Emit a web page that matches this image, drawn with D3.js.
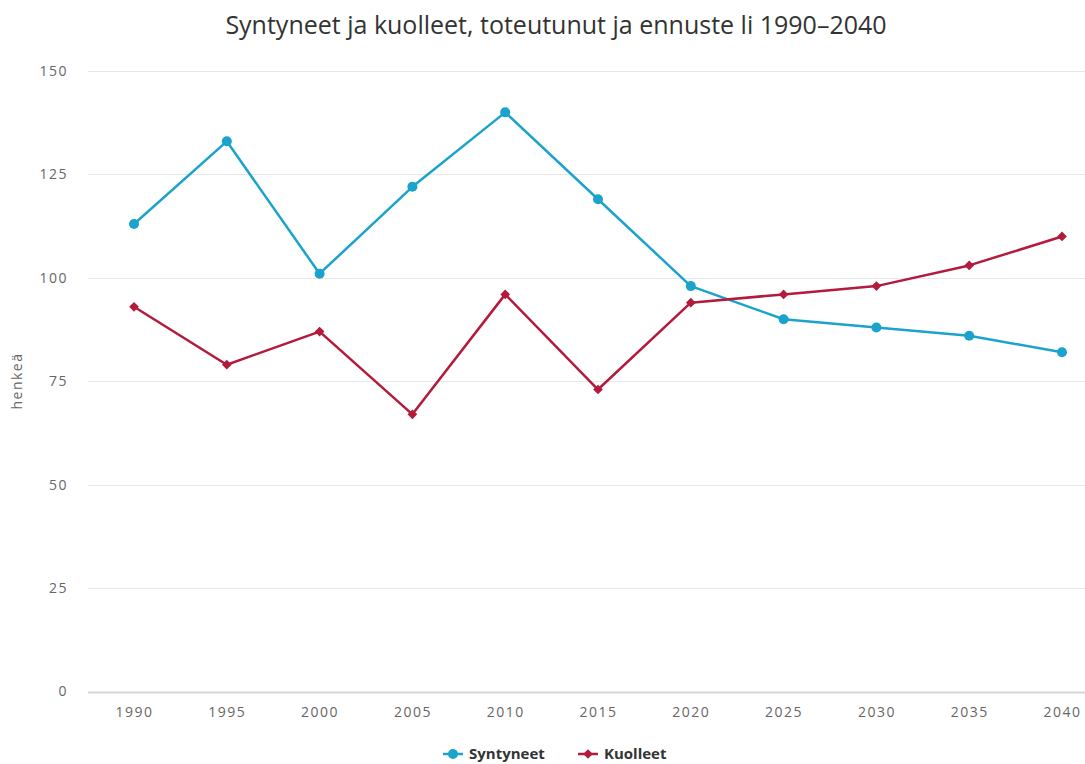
<!DOCTYPE html>
<html>
<head>
<meta charset="utf-8">
<script src="https://cdn.jsdelivr.net/npm/d3@7/dist/d3.min.js"></script>
<style>
  html, body { margin: 0; padding: 0; background: #fff; }
  svg { display: block; }
</style>
</head>
<body>
<svg id="chart" width="1085" height="764"></svg>
<script>
// Births and deaths, actual and projected, 1990–2040
const years = [1990, 1995, 2000, 2005, 2010, 2015, 2020, 2025, 2030, 2035, 2040];
const syntyneet = [113, 133, 101, 122, 140, 119, 98, 90, 88, 86, 82];
const kuolleet = [93, 79, 87, 67, 96, 73, 94, 96, 98, 103, 110];
const yTicks = [0, 25, 50, 75, 100, 125, 150];

const titleText = "Syntyneet ja kuolleet, toteutunut ja ennuste li 1990–2040";
const yTitle = "henkeä";
const seriesNames = ["Syntyneet", "Kuolleet"];
const colors = ["#1ba3cc", "#b31a3c"];

const W = 1085, H = 764;
const plot = { left: 88, right: 1085, top: 71, bottom: 691.5 };

const svg = d3.select("#chart");
const font = "'Open Sans', 'DejaVu Sans', sans-serif";

const x = d3.scalePoint()
  .domain(years)
  .range([134, 1062]);

const y = d3.scaleLinear()
  .domain([0, 150])
  .range([plot.bottom, plot.top]);

// Title
svg.append("text")
  .attr("x", 556)
  .attr("y", 34)
  .attr("text-anchor", "middle")
  .attr("font-family", font)
  .attr("font-size", 25)
  .attr("fill", "#333")
  .text(titleText);

// Horizontal grid lines
svg.append("g")
  .selectAll("line")
  .data(yTicks)
  .join("line")
  .attr("x1", plot.left)
  .attr("x2", plot.right)
  .attr("y1", d => Math.round(y(d)) + 0.5)
  .attr("y2", d => Math.round(y(d)) + 0.5)
  .attr("stroke", d => d === 0 ? "#d8d8d8" : "#e8e8e8")
  .attr("stroke-width", d => d === 0 ? 2 : 1);

// Y axis labels
const yAxis = d3.axisLeft(y).tickValues(yTicks).tickSize(0).tickPadding(0);
const gy = svg.append("g")
  .attr("transform", "translate(68,0)")
  .call(yAxis);
gy.select(".domain").remove();
gy.selectAll("text")
  .attr("font-family", font)
  .attr("font-size", 14)
  .attr("letter-spacing", 1.5)
  .attr("fill", "#666");

// X axis labels
const xAxis = d3.axisBottom(x).tickSize(0).tickPadding(0);
const gx = svg.append("g")
  .attr("transform", "translate(0,707)")
  .call(xAxis);
gx.select(".domain").remove();
gx.selectAll("text")
  .attr("font-family", font)
  .attr("font-size", 14)
  .attr("letter-spacing", 1.5)
  .attr("fill", "#666");

// Y axis title
svg.append("text")
  .attr("transform", "translate(22,381) rotate(-90)")
  .attr("text-anchor", "middle")
  .attr("font-family", font)
  .attr("font-size", 14)
  .attr("letter-spacing", 1.5)
  .attr("fill", "#666")
  .text(yTitle);

const line = d3.line()
  .x((d, i) => x(years[i]))
  .y(d => y(d));

const diamond = d3.symbol().type(d3.symbolDiamond2).size(60);

// Syntyneet series
svg.append("path")
  .datum(syntyneet)
  .attr("d", line)
  .attr("fill", "none")
  .attr("stroke", colors[0])
  .attr("stroke-width", 2.5)
  .attr("stroke-linejoin", "round");
svg.append("g")
  .selectAll("circle")
  .data(syntyneet)
  .join("circle")
  .attr("cx", (d, i) => x(years[i]))
  .attr("cy", d => y(d))
  .attr("r", 5)
  .attr("fill", colors[0]);

// Kuolleet series
svg.append("path")
  .datum(kuolleet)
  .attr("d", line)
  .attr("fill", "none")
  .attr("stroke", colors[1])
  .attr("stroke-width", 2.5)
  .attr("stroke-linejoin", "round");
svg.append("g")
  .selectAll("path")
  .data(kuolleet)
  .join("path")
  .attr("transform", (d, i) => `translate(${x(years[i])},${y(d)})`)
  .attr("d", diamond)
  .attr("fill", colors[1]);

// Legend
const legend = svg.append("g").attr("transform", "translate(0,754)");
const legendItems = [
  { name: seriesNames[0], color: colors[0], x0: 443, shape: "circle" },
  { name: seriesNames[1], color: colors[1], x0: 578, shape: "diamond" }
];
legendItems.forEach(it => {
  legend.append("line")
    .attr("x1", it.x0).attr("x2", it.x0 + 20)
    .attr("y1", 0).attr("y2", 0)
    .attr("stroke", it.color).attr("stroke-width", 2.5);
  if (it.shape === "circle") {
    legend.append("circle").attr("cx", it.x0 + 10).attr("cy", 0).attr("r", 5).attr("fill", it.color);
  } else {
    legend.append("path").attr("transform", `translate(${it.x0 + 10},0)`).attr("d", diamond).attr("fill", it.color);
  }
  legend.append("text")
    .attr("x", it.x0 + 26)
    .attr("y", 5)
    .attr("font-family", font)
    .attr("font-size", 15)
    .attr("font-weight", "bold")
    .attr("fill", "#333")
    .text(it.name);
});
</script>
</body>
</html>
